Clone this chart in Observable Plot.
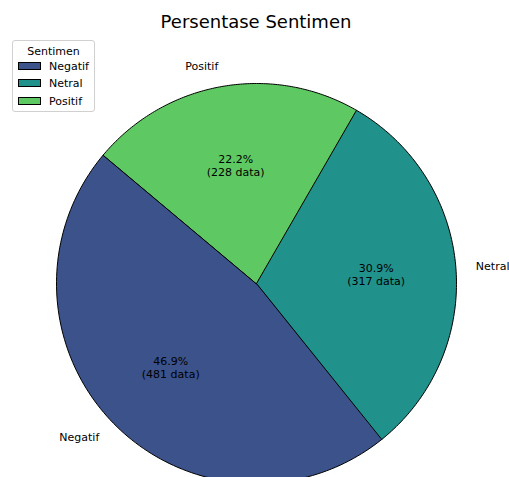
<!DOCTYPE html>
<html><head><meta charset="utf-8">
<script src="https://cdn.jsdelivr.net/npm/d3@7"></script>
<script src="https://cdn.jsdelivr.net/npm/@observablehq/plot@0.6"></script>
<style>
html,body{margin:0;padding:0;background:#fff;overflow:hidden;}
#wrap{position:relative;width:509px;height:477px;font-family:"DejaVu Sans",sans-serif;overflow:hidden;}
#title{position:absolute;left:0;width:512px;top:11px;text-align:center;font-size:18px;color:#000;line-height:normal;}
#legend{position:absolute;left:12px;top:40px;width:81px;height:70px;border:1px solid #d0d0d0;border-radius:3px;background:rgba(255,255,255,0.8);font-size:11px;color:#000;}
#legend .t{position:absolute;left:0;width:81px;text-align:center;top:4px;line-height:13px;}
#legend .e{position:absolute;left:36px;line-height:13px;}
#legend .p{position:absolute;left:5px;width:21px;height:6px;border:0.8px solid #000;}
</style></head>
<body><div id="wrap"><div id="chart"></div><div id="title">Persentase Sentimen</div><div id="legend"></div></div>
<script>
const categories = ["Negatif", "Netral", "Positif"];
const counts = [481, 317, 228];
const colors = ["#3b528b", "#21918c", "#5ec962"];
const startAngle = 140;

const total = d3.sum(counts);
const rad = Math.PI / 180;
let acc = startAngle;
const slices = categories.map((c, i) => {
  const a0 = acc, a1 = acc + counts[i] / total * 360;
  acc = a1;
  return {cat: c, count: counts[i], a0, a1, mid: (a0 + a1) / 2};
});

const pts = [];
for (const s of slices) {
  pts.push({cat: s.cat, x: 0, y: 0});
  const n = 120;
  for (let k = 0; k <= n; k++) {
    const a = (s.a0 + (s.a1 - s.a0) * k / n) * rad;
    pts.push({cat: s.cat, x: Math.cos(a), y: Math.sin(a)});
  }
}

const labels = slices.map(s => ({
  cat: s.cat,
  x: 1.1 * Math.cos(s.mid * rad),
  y: 1.1 * Math.sin(s.mid * rad),
  right: Math.cos(s.mid * rad) >= 0
}));
const pcts = slices.map(s => ({
  x: 0.6 * Math.cos(s.mid * rad),
  y: 0.6 * Math.sin(s.mid * rad),
  text: (s.count / total * 100).toFixed(1) + "%\n(" + s.count + " data)"
}));

const chart = Plot.plot({
  width: 509, height: 477, margin: 0,
  x: {domain: [-256 / 200, 253 / 200], axis: null},
  y: {domain: [-194 / 200, 283 / 200], axis: null},
  color: {domain: categories, range: colors},
  style: {fontFamily: "DejaVu Sans", fontSize: "11px", background: "#fff", overflow: "hidden"},
  marks: [
    Plot.line(pts, {x: "x", y: "y", z: "cat", fill: "cat", stroke: "#000", strokeWidth: 1, curve: "linear-closed", strokeLinejoin: "round"}),
    Plot.text(labels.filter(d => d.right), {x: "x", y: "y", text: "cat", textAnchor: "start", fill: "#000"}),
    Plot.text(labels.filter(d => !d.right), {x: "x", y: "y", text: "cat", textAnchor: "end", fill: "#000"}),
    Plot.text(pcts, {x: "x", y: "y", text: "text", lineHeight: 1.2, fill: "#000"})
  ]
});
document.getElementById("chart").appendChild(chart);

const lg = document.getElementById("legend");
const t = document.createElement("div");
t.className = "t"; t.textContent = "Sentimen"; lg.appendChild(t);
categories.forEach((c, i) => {
  const p = document.createElement("div");
  p.className = "p"; p.style.top = (21 + i * 17.4) + "px"; p.style.background = colors[i];
  lg.appendChild(p);
  const e = document.createElement("div");
  e.className = "e"; e.style.top = (19 + i * 17.4) + "px"; e.textContent = c;
  lg.appendChild(e);
});
</script>
</body></html>
